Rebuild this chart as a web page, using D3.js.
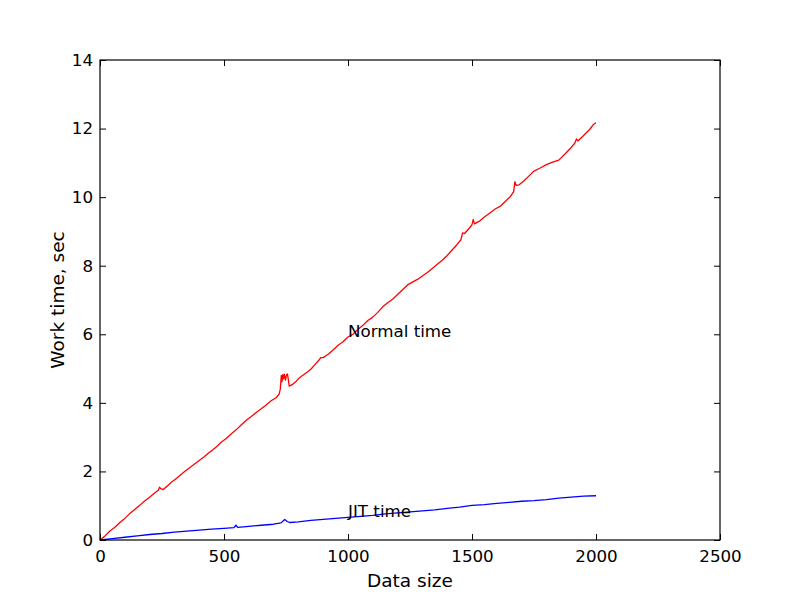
<!DOCTYPE html>
<html><head><meta charset="utf-8">
<script src="https://cdn.jsdelivr.net/npm/d3@7"></script>
<style>body{margin:0;background:#fff}svg{display:block}text{font-family:"DejaVu Sans",sans-serif}</style>
</head><body>
<script>
const normalSizes = [0,20,40,60,80,100,120,140,160,180,200,220,235,240,245,255,275,290,300,320,340,360,380,400,420,440,450,470,490,510,530,550,570,590,610,630,650,670,690,710,722,727,731,734,737,740,743,748,752,756,759,763,775,790,800,810,825,840,850,865,880,890,900,920,940,960,980,1000,1020,1040,1060,1080,1100,1120,1140,1160,1180,1200,1220,1240,1260,1280,1300,1320,1340,1360,1380,1400,1420,1440,1455,1462,1470,1490,1500,1505,1510,1530,1550,1575,1595,1615,1635,1655,1668,1673,1678,1690,1710,1730,1750,1775,1800,1825,1850,1875,1900,1915,1921,1927,1950,1975,1990,2000];
const normalTime = [0.00,0.12,0.26,0.37,0.51,0.63,0.77,0.89,1.01,1.14,1.25,1.37,1.45,1.54,1.50,1.47,1.60,1.70,1.75,1.87,1.99,2.10,2.21,2.32,2.43,2.55,2.60,2.72,2.86,2.97,3.10,3.22,3.36,3.49,3.60,3.72,3.83,3.94,4.06,4.15,4.25,4.40,4.80,4.62,4.82,4.70,4.84,4.66,4.82,4.84,4.70,4.49,4.53,4.62,4.70,4.76,4.84,4.92,4.98,5.10,5.22,5.32,5.32,5.42,5.54,5.68,5.78,5.92,6.00,6.14,6.26,6.40,6.50,6.64,6.80,6.92,7.02,7.16,7.30,7.44,7.52,7.60,7.70,7.80,7.92,8.04,8.16,8.30,8.46,8.62,8.75,8.96,8.94,9.10,9.20,9.35,9.22,9.30,9.42,9.55,9.66,9.74,9.88,10.02,10.16,10.45,10.34,10.36,10.48,10.62,10.76,10.85,10.95,11.02,11.08,11.26,11.45,11.58,11.70,11.64,11.80,11.98,12.12,12.17];
const jitSizes = [0,50,100,150,200,250,300,350,400,450,500,540,548,555,600,650,700,730,745,755,765,800,850,900,950,1000,1050,1100,1150,1200,1250,1300,1350,1400,1450,1500,1550,1600,1650,1700,1750,1800,1850,1900,1950,2000];
const jitTime = [0.00,0.04,0.08,0.12,0.16,0.19,0.23,0.26,0.29,0.32,0.34,0.36,0.43,0.37,0.40,0.43,0.46,0.50,0.60,0.54,0.51,0.53,0.57,0.60,0.63,0.66,0.69,0.72,0.76,0.79,0.82,0.85,0.88,0.92,0.96,1.01,1.03,1.07,1.10,1.13,1.15,1.18,1.22,1.25,1.28,1.29];
const xTicks = [0,500,1000,1500,2000,2500];
const yTicks = [0,2,4,6,8,10,12,14];
const labelX = 1000;

const W=800,H=600,L=100,R=720,T=60,B=540;
const svg=d3.select("body").append("svg").attr("width",W).attr("height",H);
const x=d3.scaleLinear().domain([0,2500]).range([L,R]);
const y=d3.scaleLinear().domain([0,14]).range([B,T]);
const fs=16.7;

const line=d3.line().x(d=>x(d[0])).y(d=>y(d[1]));
svg.append("path").datum(normalSizes.map((s,i)=>[s,normalTime[i]])).attr("d",line)
  .attr("fill","none").attr("stroke","#ff0000").attr("stroke-width",1.3).attr("stroke-linejoin","round");
svg.append("path").datum(jitSizes.map((s,i)=>[s,jitTime[i]])).attr("d",line)
  .attr("fill","none").attr("stroke","#0000ff").attr("stroke-width",1.3).attr("stroke-linejoin","round");

const tl=6;
function style(g){g.select(".domain").remove();g.selectAll("line").attr("stroke","#000");g.selectAll("text").attr("font-family","DejaVu Sans").attr("font-size",fs).attr("fill","#000");}
svg.append("g").attr("transform",`translate(0,${B})`).call(d3.axisBottom(x).tickValues(xTicks).tickFormat(d3.format("d")).tickSizeInner(-tl).tickPadding(10)).call(style);
svg.append("g").attr("transform",`translate(0,${T})`).call(d3.axisTop(x).tickValues(xTicks).tickFormat("").tickSizeInner(-tl)).call(style);
svg.append("g").attr("transform",`translate(${L},0)`).call(d3.axisLeft(y).tickValues(yTicks).tickFormat(d3.format("d")).tickSizeInner(-tl).tickPadding(7)).call(style);
svg.append("g").attr("transform",`translate(${R},0)`).call(d3.axisRight(y).tickValues(yTicks).tickFormat("").tickSizeInner(-tl)).call(style);

svg.append("rect").attr("x",L).attr("y",T).attr("width",R-L).attr("height",B-T)
  .attr("fill","none").attr("stroke","#000").attr("stroke-width",1.2);

svg.append("text").attr("x",(L+R)/2).attr("y",587).attr("text-anchor","middle").attr("font-size",18.5).text("Data size");
svg.append("text").attr("transform",`translate(64,${(T+B)/2}) rotate(-90)`).attr("text-anchor","middle").attr("font-size",18.5).text("Work time, sec");

const ni=normalSizes.indexOf(labelX), ji=jitSizes.indexOf(labelX);
svg.append("text").attr("x",x(labelX)).attr("y",y(normalTime[ni])).attr("font-size",fs).text("Normal time");
svg.append("text").attr("x",x(labelX)).attr("y",y(jitTime[ji])).attr("font-size",fs).text("JIT time");
</script>
</body></html>
